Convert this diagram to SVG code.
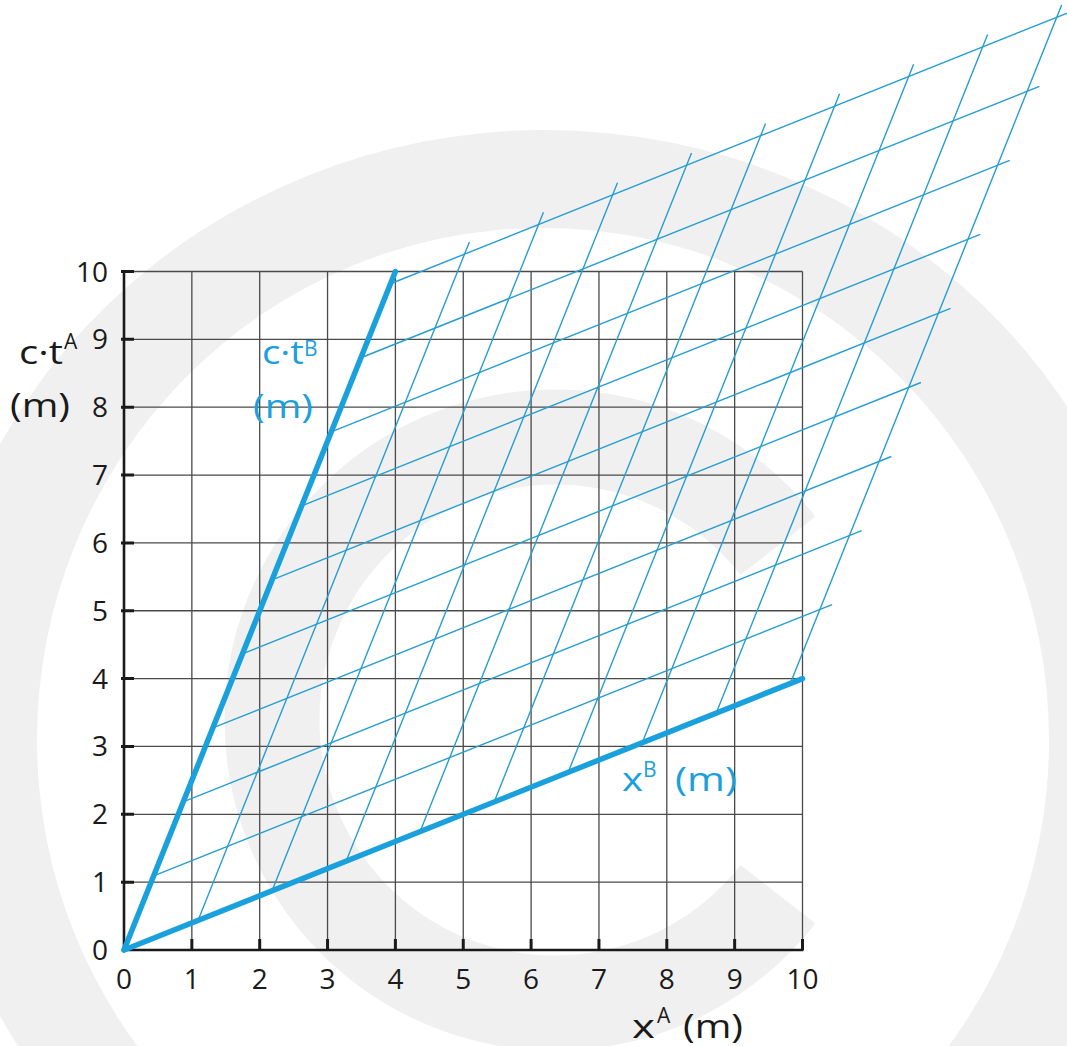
<svg xmlns="http://www.w3.org/2000/svg" width="1067" height="1046" viewBox="0 0 1067 1046">
<style>
.wm{fill:#f0f0f0;stroke:none}
.grid{stroke:#4a4a4a;stroke-width:1.3;fill:none}
.axis{stroke:#1a1a1a;stroke-width:2.6;fill:none}
.tick{stroke:#1a1a1a;stroke-width:3;fill:none}
.bgrid{stroke:#279dd2;stroke-width:1.4;fill:none}
.baxis{stroke:#1aa0dc;stroke-width:5.5;fill:none;stroke-linecap:round}
.num{font-family:"Open Sans","DejaVu Sans",sans-serif;font-size:28px;fill:#1a1a1a}
.lab{font-family:"Open Sans","DejaVu Sans",sans-serif;font-size:32px;fill:#1a1a1a}
.blab{font-family:"Open Sans","DejaVu Sans",sans-serif;font-size:32px;fill:#1aa0dc}
.sup{font-size:21px}
</style>
<g id="watermark">
<path class="wm" fill-rule="evenodd" d="M -75 730 A 620 600 0 1 0 1165 730 A 620 600 0 1 0 -75 730 Z M 37 740 A 506 512 0 1 0 1049 740 A 506 512 0 1 0 37 740 Z"/>
<path d="M 778 545.8 A 283 283 0 1 0 778 894.2" fill="none" stroke="#f0f0f0" stroke-width="95"/>
</g>
<g id="grid-A">
<path class="grid" d="M191.85 271.5V950M259.7 271.5V950M327.55 271.5V950M395.4 271.5V950M463.25 271.5V950M531.1 271.5V950M598.95 271.5V950M666.8 271.5V950M734.65 271.5V950M802.5 271.5V950"/>
<path class="grid" d="M124 882.15H802.5M124 814.3H802.5M124 746.45H802.5M124 678.6H802.5M124 610.75H802.5M124 542.9H802.5M124 475.05H802.5M124 407.2H802.5M124 339.35H802.5M124 271.5H802.5"/>
<path class="axis" d="M124 270.5V950H803.5"/>
<path class="tick" d="M121 882.15H134M121 814.3H134M121 746.45H134M121 678.6H134M121 610.75H134M121 542.9H134M121 475.05H134M121 407.2H134M121 339.35H134M121 271.5H134"/>
<path class="tick" d="M191.85 950V939M259.7 950V939M327.55 950V939M395.4 950V939M463.25 950V939M531.1 950V939M598.95 950V939M666.8 950V939M734.65 950V939M802.5 950V939"/>
</g>
<g id="connectors">
<g id="grid-B-xconst">
<path class="bgrid" d="M198.03 920.39L469.42 241.90M272.06 890.78L543.45 212.29M346.09 861.16L617.48 182.67M420.12 831.55L691.51 153.06M494.15 801.94L765.54 123.45M568.18 772.33L839.57 93.84M642.21 742.72L913.60 64.23M716.24 713.10L987.63 34.61M790.27 683.49L1061.66 5.00"/>
</g>
<g id="grid-B-tconst">
<path class="bgrid" d="M153.61 875.97L832.10 604.58M183.22 801.94L861.71 530.55M212.84 727.91L891.33 456.52M242.45 653.88L920.94 382.49M272.06 579.85L950.55 308.46M301.67 505.82L980.16 234.43M331.28 431.79L1009.77 160.40M360.90 357.76L1039.39 86.37M390.51 283.73L1069.00 12.34"/>
</g>
<g id="axis-ctB"><path class="baxis" d="M124 950L395.4 271.5"/></g>
<g id="axis-xB"><path class="baxis" d="M124 950L802.5 678.6"/></g>
</g>
<g id="ylabels" class="num" text-anchor="end">
<text x="108" y="960">0</text>
<text x="108" y="892">1</text>
<text x="108" y="824">2</text>
<text x="108" y="756">3</text>
<text x="108" y="689">4</text>
<text x="108" y="621">5</text>
<text x="108" y="553">6</text>
<text x="108" y="485">7</text>
<text x="108" y="417">8</text>
<text x="108" y="349">9</text>
<text x="108" y="282">10</text>
</g>
<g id="xlabels" class="num" text-anchor="middle">
<text x="124" y="989">0</text>
<text x="191.85" y="989">1</text>
<text x="259.7" y="989">2</text>
<text x="327.55" y="989">3</text>
<text x="395.4" y="989">4</text>
<text x="463.25" y="989">5</text>
<text x="531.1" y="989">6</text>
<text x="598.95" y="989">7</text>
<text x="666.8" y="989">8</text>
<text x="734.65" y="989">9</text>
<text x="802.5" y="989">10</text>
</g>
<g id="label-ctA" class="lab">
<text x="19" y="364" textLength="44" lengthAdjust="spacingAndGlyphs">c·t</text>
<text class="sup" x="64" y="349">A</text>
<text x="10" y="417" textLength="60" lengthAdjust="spacingAndGlyphs">(m)</text>
</g>
<g id="label-ctB" class="blab">
<text x="262" y="364" textLength="42" lengthAdjust="spacingAndGlyphs">c·t</text>
<text class="sup" x="304" y="356">B</text>
<text x="253" y="418" textLength="60" lengthAdjust="spacingAndGlyphs">(m)</text>
</g>
<g id="label-xB" class="blab">
<text x="622" y="791" textLength="21" lengthAdjust="spacingAndGlyphs">x</text>
<text class="sup" x="643" y="777">B</text>
<text x="675" y="791" textLength="62" lengthAdjust="spacingAndGlyphs">(m)</text>
</g>
<g id="label-xA" class="lab">
<text x="632" y="1038" textLength="23" lengthAdjust="spacingAndGlyphs">x</text>
<text class="sup" x="657" y="1023">A</text>
<text x="683" y="1038" textLength="60" lengthAdjust="spacingAndGlyphs">(m)</text>
</g>
</svg>
